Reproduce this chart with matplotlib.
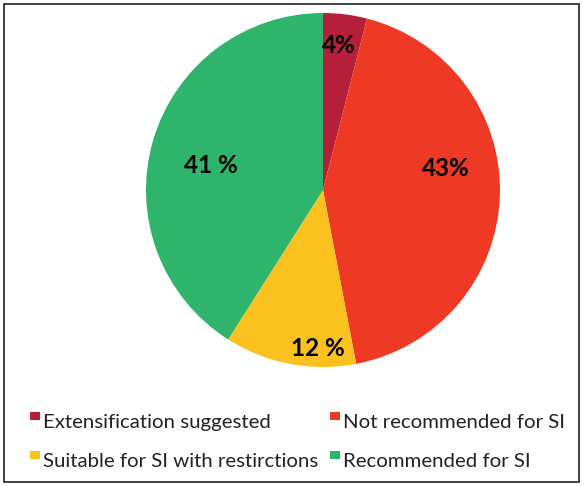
import matplotlib
matplotlib.use("Agg")
import matplotlib.pyplot as plt
from matplotlib.patches import Rectangle

categories = ["Extensification suggested", "Not recommended for SI",
              "Suitable for SI with restirctions", "Recommended for SI"]
values = [4, 43, 12, 41]
value_labels = ["4%", "43%", "12 %", "41 %"]
colors = ["#B61F3A", "#EE3A25", "#FBC21F", "#2EB46B"]

plt.rcParams['font.family'] = ['Lato', 'DejaVu Sans']

W, H = 584, 486
fig = plt.figure(figsize=(W / 100, H / 100), dpi=100)
fig.patch.set_facecolor("white")

cx, cy, r = 323, 190, 177
ax = fig.add_axes([(cx - r) / W, (H - cy - r) / H, 2 * r / W, 2 * r / H])
wedges, _ = ax.pie(values, colors=colors, startangle=90, counterclock=False,
                   radius=1.0, wedgeprops=dict(linewidth=0))
ax.set_xlim(-1, 1)
ax.set_ylim(-1, 1)
ax.set_aspect("auto")
ax.axis("off")

# label positions (pixel coords in figure) for each value label
label_pos = [(339, 43.5), (446, 166.5), (318, 346.5), (211, 163.5)]
for (px, py), txt in zip(label_pos, value_labels):
    fig.text(px / W, 1 - py / H, txt, ha="center", va="center_baseline",
             fontsize=17.5, fontweight="bold", color="black")

# legend
leg_pos = [(30, 428), (330, 428), (30, 467), (330, 467)]  # (square x, text baseline)
for (px, py), lab, col in zip(leg_pos, categories, colors):
    fig.patches.append(Rectangle((px / W, 1 - (py - 8) / H), 10 / W, 8 / H,
                                 transform=fig.transFigure, facecolor=col,
                                 edgecolor="none"))
    fig.text((px + 13) / W, 1 - py / H, lab, ha="left", va="baseline",
             fontsize=14.7, color="#222222")

# frame
fig.patches.append(Rectangle((4 / W, 4 / H), (W - 9) / W, (H - 8) / H,
                             transform=fig.transFigure, fill=False,
                             edgecolor="#333333", linewidth=1.3))

fig.savefig("out.png", dpi=100)
